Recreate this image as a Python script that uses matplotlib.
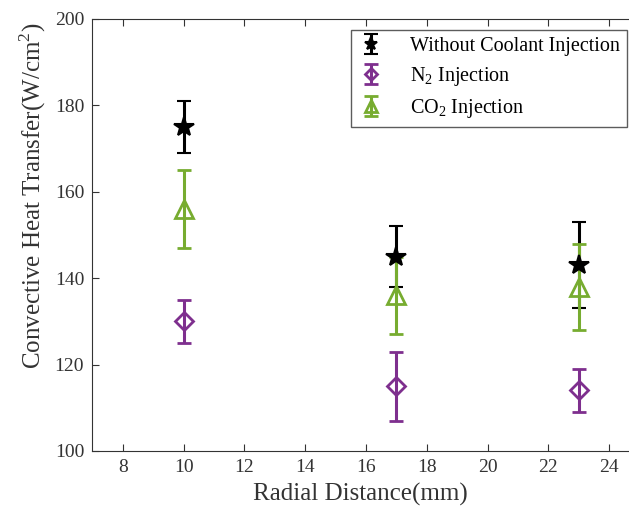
import numpy as np
import matplotlib
matplotlib.use('Agg')
import matplotlib.pyplot as plt

plt.rcParams['font.family'] = ['Liberation Serif', 'DejaVu Serif']
plt.rcParams['mathtext.fontset'] = 'custom'
plt.rcParams['mathtext.rm'] = 'Liberation Serif'

# radial positions (mm)
r = [10, 17, 23]
# heat transfer values (W/cm^2) and error half-widths
q_none = [175, 145, 143]
e_none = [6, 7, 10]
q_n2 = [130, 115, 114]
e_n2 = [5, 8, 5]
q_co2 = [156, 136, 138]
e_co2 = [9, 9, 10]

fig = plt.figure(figsize=(6.29, 5.09), dpi=100)
ax = fig.add_axes([0.147, 0.114, 0.853, 0.849])

kw = dict(ls='none', elinewidth=2.2, capsize=5, capthick=2.2)
ax.errorbar(r, q_none, yerr=e_none, fmt='*', color='k', ms=15, mfc='k', mew=1.5,
            label='Without Coolant Injection', **kw)
ax.errorbar(r, q_n2, yerr=e_n2, fmt='D', color='#7e2f8e', ms=9, mfc='none', mew=2,
            label='N$_2$ Injection', **kw)
ax.errorbar(r, q_co2, yerr=e_co2, fmt='^', color='#77ac30', ms=13, mfc='none', mew=2,
            label='CO$_2$ Injection', **kw)

ax.set_xlim(7, 24.65)
ax.set_ylim(100, 200)
ax.set_xticks([8, 10, 12, 14, 16, 18, 20, 22, 24])
ax.set_yticks([100, 120, 140, 160, 180, 200])
ax.spines['right'].set_visible(False)
for s in ax.spines.values():
    s.set_color('#333333')
ax.tick_params(direction='in', top=True, right=False, labelsize=14, colors='#333333', length=5, pad=6)
ax.set_xlabel('Radial Distance(mm)', fontsize=18, color='#333333', labelpad=5)
ax.set_ylabel('Convective Heat Transfer(W/cm$^2$)', fontsize=18, color='#333333')
ax.yaxis.set_label_coords(-0.082, 0.59)

leg = ax.legend(loc='upper right', bbox_to_anchor=(0.996, 0.975), fontsize=14.5, frameon=True,
                fancybox=False, edgecolor='#333333', borderpad=0.35, handlelength=1.3,
                handletextpad=1.3, labelspacing=0.45, markerscale=0.65, borderaxespad=0)
leg.get_frame().set_linewidth(1.0)

fig.savefig('out.png', dpi=100)
